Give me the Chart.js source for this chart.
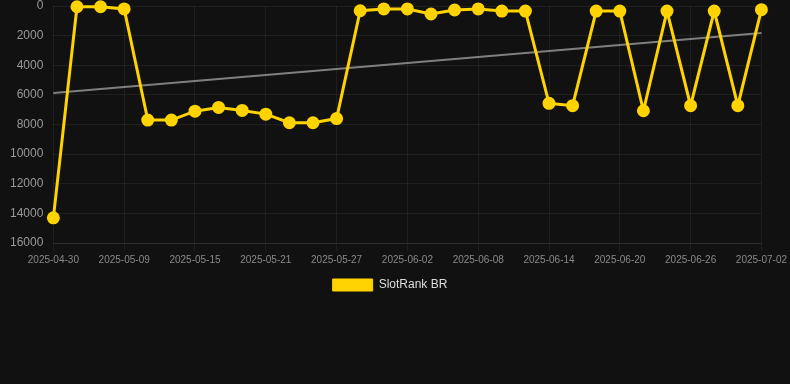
<!DOCTYPE html>
<html>
<head>
<meta charset="utf-8">
<script src="https://cdn.jsdelivr.net/npm/chart.js@4/dist/chart.umd.min.js"></script>
<style>
  html, body { margin: 0; padding: 0; background: #111111; }
  #wrap { width: 790px; height: 301px; position: relative; }
</style>
</head>
<body>
<div id="wrap"><canvas id="c"></canvas></div>
<script>
const dates = [
  '2025-04-30','2025-05-05','2025-05-07','2025-05-09','2025-05-11','2025-05-13',
  '2025-05-15','2025-05-17','2025-05-19','2025-05-21','2025-05-23','2025-05-25',
  '2025-05-27','2025-05-29','2025-05-31','2025-06-02','2025-06-04','2025-06-06',
  '2025-06-08','2025-06-10','2025-06-12','2025-06-14','2025-06-16','2025-06-18',
  '2025-06-20','2025-06-22','2025-06-24','2025-06-26','2025-06-28','2025-06-30',
  '2025-07-02'
];
const rankValues = [
  14300, 50, 50, 200, 7700, 7700,
  7100, 6850, 7050, 7300, 7880, 7880,
  7600, 320, 200, 200, 540, 270,
  200, 340, 340, 6570, 6730, 340,
  340, 7070, 340, 6730, 340, 6730,
  250
];
const trendStart = 5880;
const trendEnd = 1820;
const trendValues = dates.map((d, i) => i === 0 ? trendStart : (i === dates.length - 1 ? trendEnd : null));
const yTicks = [0, 2000, 4000, 6000, 8000, 10000, 12000, 14000, 16000];

const gold = '#FFD300';
Chart.defaults.font.family = '"Liberation Sans", Arial, Helvetica, sans-serif';

new Chart(document.getElementById('c'), {
  type: 'line',
  data: {
    labels: dates,
    datasets: [
      {
        label: 'SlotRank BR',
        data: rankValues,
        borderColor: gold,
        backgroundColor: gold,
        borderWidth: 3,
        pointRadius: 5,
        pointHoverRadius: 5,
        pointBackgroundColor: gold,
        pointBorderColor: gold,
        tension: 0,
        clip: false,
        order: 1
      },
      {
        label: 'trend',
        data: trendValues,
        borderColor: 'rgba(140,140,140,0.9)',
        borderWidth: 2,
        pointRadius: 0,
        spanGaps: true,
        fill: false,
        clip: false,
        order: 2
      }
    ]
  },
  options: {
    responsive: true,
    maintainAspectRatio: false,
    animation: false,
    layout: { autoPadding: false, padding: { left: 0, right: 10, top: 0, bottom: 0 } },
    plugins: {
      tooltip: { enabled: false },
      legend: {
        position: 'bottom',
        labels: {
          color: '#dddddd',
          font: { size: 12 },
          boxWidth: 40,
          boxHeight: 12,
          filter: (item) => item.text !== 'trend',
          generateLabels: (chart) => {
            const items = Chart.defaults.plugins.legend.labels.generateLabels(chart);
            items.forEach(it => { it.lineWidth = 1; });
            return items;
          }
        }
      }
    },
    scales: {
      x: {
        offset: false,
        grid: { color: 'rgba(255,255,255,0.06)', drawTicks: true, tickLength: 8 },
        border: { color: 'rgba(255,255,255,0.08)' },
        ticks: {
          autoSkip: false,
          maxRotation: 0,
          color: '#8a8a8a',
          font: { size: 10 },
          callback: function(v, i) { return i % 3 === 0 ? dates[i] : null; }
        }
      },
      y: {
        reverse: true,
        min: 0,
        max: 16000,
        afterBuildTicks: (axis) => { axis.ticks = yTicks.map(v => ({ value: v })); },
        afterFit: (axis) => { axis.width += 10; },
        grid: { color: 'rgba(255,255,255,0.06)', drawTicks: true, tickLength: 10, tickColor: 'rgba(0,0,0,0)' },
        border: { display: false },
        ticks: {
          color: '#999999',
          font: { size: 12, lineHeight: 1 },
          padding: 0,
          callback: (v) => String(v)
        }
      }
    }
  }
});
</script>
</body>
</html>
